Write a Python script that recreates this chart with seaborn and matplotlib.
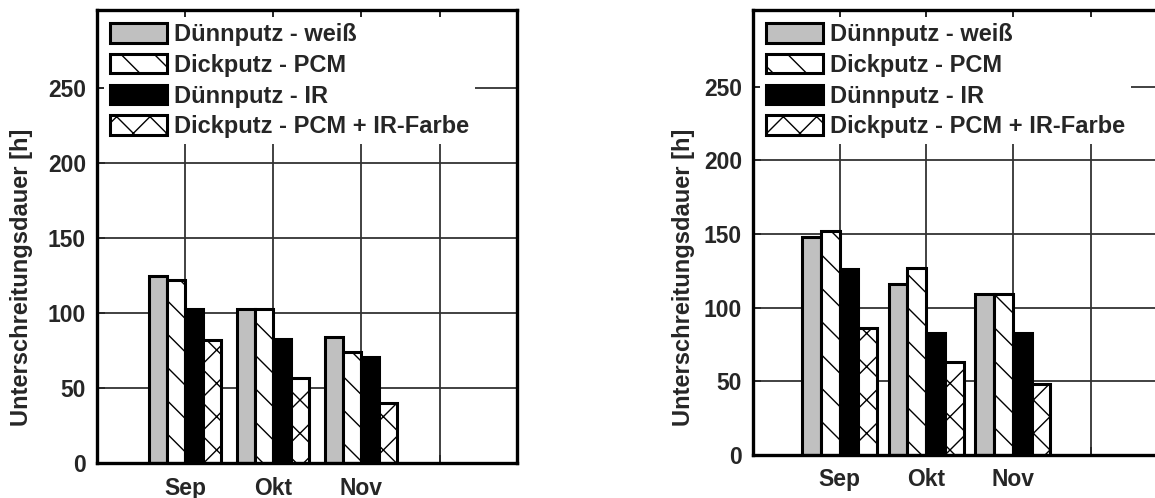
import pandas as pd
import seaborn as sns
import matplotlib.pyplot as plt
from matplotlib.patches import Patch

# Data (hours below threshold)
monate = ["Sep", "Okt", "Nov"]
varianten = ["Dünnputz - weiß", "Dickputz - PCM", "Dünnputz - IR",
             "Dickputz - PCM + IR-Farbe"]

links_weiss = [125, 103, 84]
links_pcm = [122, 103, 74]
links_ir = [103, 83, 71]
links_pcm_ir = [82, 57, 40]

rechts_weiss = [148, 116, 109]
rechts_pcm = [152, 127, 109]
rechts_ir = [126, 83, 83]
rechts_pcm_ir = [86, 63, 48]

y_ticks = [0, 50, 100, 150, 200, 250]
y_label = "Unterschreitungsdauer [h]"

farben = ["#c0c0c0", "white", "black", "white"]
schraffur = ["", "\\", "", "x"]


def long_table(*serien):
    rows = []
    for variante, werte in zip(varianten, serien):
        for monat, wert in zip(monate, werte):
            rows.append({"Monat": monat, "Variante": variante, "Stunden": wert})
    return pd.DataFrame(rows)


def draw_panel(ax, df, group_width, xlabel_pad, label_xy):
    """One grouped bar panel with hatched bars, grid and legend."""
    sns.barplot(data=df, x="Monat", y="Stunden", hue="Variante",
                hue_order=varianten, order=monate, palette=farben,
                saturation=1, width=group_width, edgecolor="black",
                linewidth=2.2, legend=False, ax=ax, zorder=3)

    for cont, h in zip(ax.containers, schraffur):
        for bar in cont:
            bar.set_hatch(h)

    ax.set_xlim(-1.0, 3.77)
    ax.set_ylim(0, 302)
    ax.set_xticks([0, 1, 2, 2.9])
    ax.set_xticklabels(monate + [""])
    ax.set_yticks(y_ticks)
    ax.set_xlabel("")
    ax.set_ylabel(y_label, fontsize=17, fontweight="bold", va="center")
    ax.yaxis.set_label_coords(*label_xy)

    ax.set_axisbelow(True)
    ax.grid(True, color="#333333", linewidth=1.3)

    ax.tick_params(axis="x", direction="in", top=True, bottom=True,
                   length=6, width=1.3, pad=xlabel_pad, labelsize=16.5)
    ax.tick_params(axis="y", direction="in", left=True, right=False,
                   length=6, width=1.3, pad=8, labelsize=16.5)
    for lab in ax.get_xticklabels() + ax.get_yticklabels():
        lab.set_fontweight("bold")

    for sp in ax.spines.values():
        sp.set_visible(True)
        sp.set_linewidth(2.4)
        sp.set_color("black")
        sp.set_zorder(4)

    handles = [Patch(facecolor=c, edgecolor="black", hatch=h, linewidth=2.2)
               for c, h in zip(farben, schraffur)]
    leg = ax.legend(handles, varianten, loc="upper left",
                    bbox_to_anchor=(0, 1), borderaxespad=0.3, borderpad=0.25,
                    handlelength=2.4, handleheight=0.9, handletextpad=0.3,
                    labelspacing=0.33, frameon=True, fancybox=False,
                    prop={"size": 17, "weight": "bold"})
    leg.get_frame().set_facecolor("white")
    leg.get_frame().set_edgecolor("none")
    leg.get_frame().set_alpha(1)


sns.set_style("white")
plt.rcParams["font.family"] = ["Liberation Sans", "DejaVu Sans"]
plt.rcParams["hatch.linewidth"] = 1.0

fig = plt.figure(figsize=(11.55, 4.98), dpi=100)
W, H = 1155, 498
ax1 = fig.add_axes([97 / W, (H - 463) / H, 420 / W, 453 / H])
ax2 = fig.add_axes([753 / W, (H - 455) / H, 413 / W, 445 / H])

draw_panel(ax1, long_table(links_weiss, links_pcm, links_ir, links_pcm_ir),
           0.82, 10, (-0.179, 0.41))
draw_panel(ax2, long_table(rechts_weiss, rechts_pcm, rechts_ir, rechts_pcm_ir),
           0.87, 9, (-0.169, 0.40))

fig.savefig("out.png", dpi=100)
